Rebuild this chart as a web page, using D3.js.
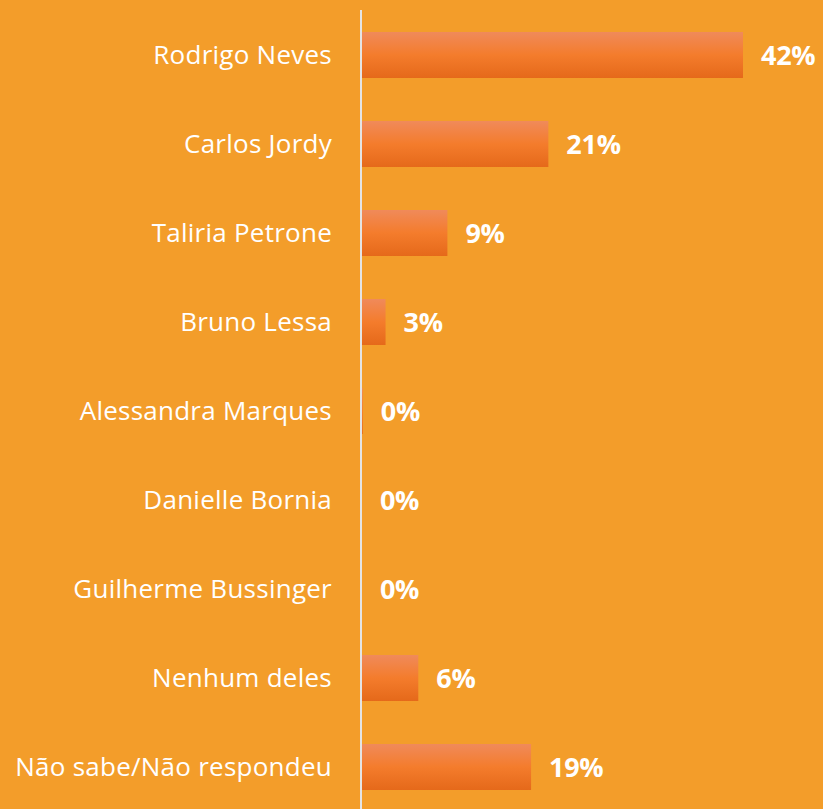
<!DOCTYPE html>
<html>
<head>
<meta charset="utf-8">
<script src="https://cdn.jsdelivr.net/npm/d3@7"></script>
<style>
  html, body { margin: 0; padding: 0; background: #F39D2A; }
  svg { display: block; }
</style>
</head>
<body>
<div id="chart"></div>
<script>
// chart values
var categories = ["Rodrigo Neves", "Carlos Jordy", "Taliria Petrone", "Bruno Lessa",
  "Alessandra Marques", "Danielle Bornia", "Guilherme Bussinger", "Nenhum deles",
  "Não sabe/Não respondeu"];
var values = [42, 20.6, 9.5, 2.7, 0.2, 0.1, 0.1, 6.3, 18.7];
var valueLabels = ["42%", "21%", "9%", "3%", "0%", "0%", "0%", "6%", "19%"];

var width = 823, height = 809;
var axisX = 361;

var svg = d3.select("#chart")
  .append("svg")
    .attr("width", width)
    .attr("height", height);

svg.append("rect")
  .attr("width", width)
  .attr("height", height)
  .attr("fill", "#F39D2A");

// bar gradient
var grad = svg.append("defs").append("linearGradient")
  .attr("id", "barGrad")
  .attr("x1", 0).attr("y1", 0).attr("x2", 0).attr("y2", 1);
grad.append("stop").attr("offset", "0%").attr("stop-color", "#F08A5A");
grad.append("stop").attr("offset", "50%").attr("stop-color", "#F47C2C");
grad.append("stop").attr("offset", "100%").attr("stop-color", "#E5691A");

var x = d3.scaleLinear().domain([0, 42]).range([axisX, 743]);
var y = d3.scaleBand()
  .domain(categories)
  .range([10.5, 811.5])
  .paddingInner(0.483)
  .paddingOuter(0.2415);

var rows = categories.map(function(c, i) {
  return { name: c, value: values[i], label: valueLabels[i] };
});

svg.selectAll("rect.bar")
  .data(rows)
  .enter()
  .append("rect")
    .attr("class", "bar")
    .attr("x", x(0))
    .attr("y", function(d) { return y(d.name); })
    .attr("width", function(d) { return x(d.value) - x(0); })
    .attr("height", y.bandwidth())
    .attr("fill", "url(#barGrad)");

// category labels
svg.selectAll("text.cat")
  .data(rows)
  .enter()
  .append("text")
    .attr("class", "cat")
    .attr("x", 332)
    .attr("y", function(d) { return y(d.name) + y.bandwidth() / 2; })
    .attr("dy", "0.35em")
    .attr("text-anchor", "end")
    .attr("fill", "#FFFFFF")
    .style("font-family", "'Open Sans', sans-serif")
    .style("font-size", "26px")
    .style("letter-spacing", "0.25px")
    .text(function(d) { return d.name; });

// value labels
svg.selectAll("text.val")
  .data(rows)
  .enter()
  .append("text")
    .attr("class", "val")
    .attr("x", function(d) { return x(d.value) + 18; })
    .attr("y", function(d) { return y(d.name) + y.bandwidth() / 2; })
    .attr("dy", "0.36em")
    .attr("fill", "#FFFFFF")
    .style("font-family", "'Open Sans', sans-serif")
    .style("font-weight", "bold")
    .style("font-size", "27px")
    .style("letter-spacing", "-0.3px")
    .text(function(d) { return d.label; });

// vertical axis line
svg.append("line")
  .attr("x1", axisX).attr("x2", axisX)
  .attr("y1", 10).attr("y2", height)
  .attr("stroke", "#E4E4E4")
  .attr("stroke-width", 2);
</script>
</body>
</html>
